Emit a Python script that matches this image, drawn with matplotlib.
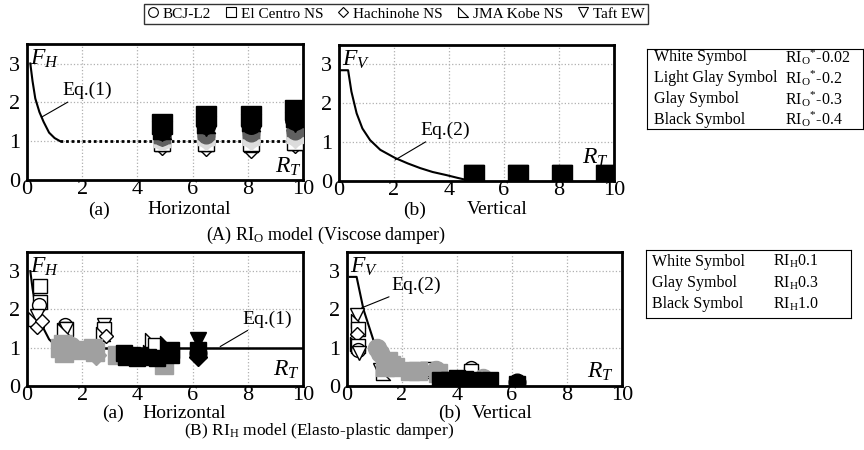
import matplotlib
matplotlib.use('Agg')
import matplotlib.pyplot as plt
from matplotlib.path import Path
from matplotlib.lines import Line2D

plt.rcParams['font.family'] = ['Liberation Serif', 'DejaVu Serif']
plt.rcParams['mathtext.fontset'] = 'custom'
plt.rcParams['mathtext.rm'] = 'Liberation Serif'
plt.rcParams['mathtext.it'] = 'Liberation Serif:italic'

# records and their symbols
records = ['BCJ-L2', 'El Centro NS', 'Hachinohe NS', 'JMA Kobe NS', 'Taft EW']
kobe = Path([(-1, 1), (-1, -1), (1, -1), (-1, 1)], closed=True)
symbols = ['o', 's', 'D', kobe, 'v']
sym_scale = [1.0, 1.0, 0.75, 0.95, 1.0]
draw_order = [0, 2, 3, 4, 1]  # squares drawn last, as in the picture

# Eq.(1) and Eq.(2) curves
eq1_rt = [0.12, 0.2, 0.3, 0.45, 0.6, 0.8, 1.0, 1.2]
eq1_f = [3.0, 2.55, 2.1, 1.75, 1.5, 1.22, 1.08, 1.0]
eq2a_rt = [0.0, 0.33, 0.45, 0.64, 0.85, 1.13, 1.5, 2.04, 2.5, 2.95, 3.4, 3.9, 4.3, 4.6]
eq2a_f = [2.85, 2.85, 2.3, 1.74, 1.35, 1.05, 0.8, 0.59, 0.45, 0.33, 0.23, 0.15, 0.08, 0.03]
eq2b_rt = [0.1, 0.35, 0.6, 0.96, 1.3, 1.8, 2.5, 3.2]
eq2b_f = [2.85, 2.85, 2.0, 1.2, 0.8, 0.5, 0.35, 0.25]

# (A) RIo model, horizontal: one row per record, columns = RT groups
a_rt = [4.9, 6.5, 8.1, 9.7]
ah_white = [[0.92, 0.90, 0.88, 0.95], [0.95, 0.95, 0.95, 0.97], [0.85, 0.82, 0.76, 0.90],
            [0.92, 0.93, 0.90, 0.95], [1.00, 1.00, 1.00, 1.00]]
ah_lgray = [[1.00, 1.05, 1.05, 1.10], [1.05, 1.10, 1.10, 1.15], [1.00, 1.00, 1.00, 1.05],
            [1.05, 1.10, 1.15, 1.20], [1.10, 1.15, 1.20, 1.25]]
ah_gray = [[1.10, 1.15, 1.20, 1.25], [1.15, 1.25, 1.30, 1.35], [1.10, 1.20, 1.25, 1.30],
           [1.15, 1.25, 1.30, 1.40], [1.10, 1.20, 1.25, 1.35]]
ah_black = [[1.30, 1.45, 1.45, 1.55], [1.45, 1.65, 1.65, 1.80], [1.35, 1.50, 1.50, 1.60],
            [1.30, 1.45, 1.50, 1.60], [1.25, 1.40, 1.45, 1.50]]

# (A) RIo model, vertical
av_white = [[0.02, 0.02, 0.02, 0.02]] * 5
av_lgray = [[0.06, 0.06, 0.06, 0.06]] * 5
av_gray = [[0.08, 0.08, 0.08, 0.08]] * 5
av_black = [[0.12, 0.12, 0.12, 0.12], [0.14, 0.14, 0.14, 0.14], [0.12, 0.12, 0.12, 0.12],
            [0.12, 0.12, 0.12, 0.12], [0.14, 0.14, 0.14, 0.14]]

# (B) RIH model, horizontal: (record index, RT, F)
bh_white = [(1, 0.48, 2.6), (1, 0.48, 2.2), (0, 0.42, 2.12), (4, 0.36, 1.82), (3, 0.3, 1.75),
            (2, 0.36, 1.55), (2, 0.55, 1.7), (0, 1.39, 1.6), (1, 1.4, 1.48), (4, 1.4, 1.5),
            (3, 1.35, 1.45), (4, 2.78, 1.6), (1, 2.8, 1.48), (3, 2.75, 1.35), (2, 2.85, 1.3),
            (3, 4.53, 1.2), (1, 4.65, 1.08)]
bh_gray = [(1, 1.2, 1.0), (0, 1.5, 0.95), (1, 1.8, 0.95), (1, 1.35, 0.85), (0, 1.6, 1.05),
           (1, 1.3, 1.1), (1, 2.4, 1.0), (2, 2.5, 0.8), (1, 2.45, 0.9), (1, 3.25, 0.8),
           (1, 4.95, 0.55)]
bh_black = [(1, 3.5, 0.85), (1, 3.8, 0.8), (1, 4.1, 0.78), (1, 4.4, 0.75), (1, 4.7, 0.72),
            (1, 3.6, 0.75), (1, 4.0, 0.72), (3, 4.5, 0.85), (3, 5.1, 1.1), (1, 5.2, 0.8),
            (1, 5.2, 0.95), (4, 6.2, 1.2), (0, 6.2, 0.85), (2, 6.2, 0.75), (1, 6.2, 0.95)]

# (B) RIH model, vertical
bv_white = [(4, 0.35, 1.85), (3, 0.4, 1.7), (1, 0.4, 1.5), (2, 0.35, 1.35), (3, 0.35, 1.1),
            (1, 0.4, 1.05), (0, 0.4, 0.95), (4, 0.45, 0.85), (4, 1.2, 0.42), (3, 1.3, 0.35),
            (3, 2.85, 0.38), (1, 2.9, 0.45), (0, 4.5, 0.46), (1, 4.5, 0.4)]
bv_gray = [(0, 1.1, 1.0), (0, 1.2, 0.85), (1, 1.5, 0.65), (1, 1.6, 0.55), (1, 1.75, 0.5),
           (1, 1.4, 0.5), (1, 2.3, 0.4), (1, 2.6, 0.38), (0, 3.25, 0.42), (1, 3.3, 0.35),
           (0, 4.95, 0.2), (1, 4.9, 0.1)]
bv_black = [(1, 3.4, 0.15), (1, 3.7, 0.15), (1, 4.0, 0.2), (1, 4.3, 0.18), (1, 4.6, 0.15),
            (1, 3.6, 0.05), (1, 4.2, 0.1), (1, 5.2, 0.15), (1, 5.1, 0.1), (1, 6.2, 0.05),
            (0, 6.2, 0.1)]

box_a = [('White Symbol', r'RI$_{\rm O}$$^{*}$-0.02'), ('Light Glay Symbol', r'RI$_{\rm O}$$^{*}$-0.2'),
         ('Glay Symbol', r'RI$_{\rm O}$$^{*}$-0.3'), ('Black Symbol', r'RI$_{\rm O}$$^{*}$-0.4')]
box_b = [('White Symbol', r'RI$_{\rm H}$0.1'), ('Glay Symbol', r'RI$_{\rm H}$0.3'),
         ('Black Symbol', r'RI$_{\rm H}$1.0')]


def setup(ax, fname):
    ax.set_xlim(0, 10)
    ax.set_ylim(0, 3.5)
    ax.set_xticks([0, 2, 4, 6, 8, 10])
    ax.set_yticks([0, 1, 2, 3])
    ax.tick_params(length=0, labelsize=16)
    ax.tick_params(axis='x', pad=0)
    ax.tick_params(axis='y', pad=5)
    ax.grid(True, color='#b0b0b0', linestyle=':', linewidth=0.9)
    for s in ax.spines.values():
        s.set_linewidth(2)
    ax.text(0.1, 3.12, fname, fontsize=17, ha='left', va='center', zorder=10)


def grid_pts(ax, rts, rows, fc, ec, ms):
    for i in draw_order:
        ax.plot(rts, rows[i], linestyle='none', marker=symbols[i], ms=ms * sym_scale[i],
                mfc=fc, mec=ec, mew=1, zorder=4)


def list_pts(ax, pts, fc, ec, ms):
    for rec, rt, f in pts:
        ax.plot(rt, f, linestyle='none', marker=symbols[rec], ms=ms * sym_scale[rec],
                mfc=fc, mec=ec, mew=1, zorder=4)


def eq_label(ax, txt, xy, xytext):
    ax.annotate(txt, xy=xy, xytext=xytext, fontsize=14, va='center',
                arrowprops=dict(arrowstyle='-', color='black', lw=0.8, shrinkA=0, shrinkB=0))


fig = plt.figure(figsize=(8.64, 4.5), dpi=100)

# (A)(a)
ax1 = fig.add_axes([0.03125, 0.6, 0.3194, 0.302])
setup(ax1, r'$F_H$')
ax1.plot(eq1_rt, eq1_f, color='black', lw=1.5, zorder=3)
ax1.plot([1.2, 10], [1, 1], color='black', lw=2, linestyle=(0, (1, 1)), zorder=3)
grid_pts(ax1, a_rt, ah_white, 'white', 'black', 11)
grid_pts(ax1, a_rt, ah_lgray, '#dcdcdc', '#dcdcdc', 12)
grid_pts(ax1, a_rt, ah_gray, '#606060', '#606060', 12)
grid_pts(ax1, a_rt, ah_black, 'black', 'black', 14)
eq_label(ax1, 'Eq.(1)', (0.53, 1.62), (1.3, 2.3))
ax1.text(9.95, 0.35, r'$R_T$', fontsize=17, ha='right', va='center')

# (A)(b)
ax2 = fig.add_axes([0.3924, 0.598, 0.3183, 0.302])
setup(ax2, r'$F_V$')
ax2.plot(eq2a_rt, eq2a_f, color='black', lw=1.5, zorder=3)
grid_pts(ax2, a_rt, av_white, 'white', 'black', 11)
grid_pts(ax2, a_rt, av_lgray, '#c8c8c8', '#c8c8c8', 12)
grid_pts(ax2, a_rt, av_gray, '#606060', '#606060', 12)
grid_pts(ax2, a_rt, av_black, 'black', 'black', 14)
eq_label(ax2, 'Eq.(2)', (2.04, 0.54), (2.95, 1.3))
ax2.text(9.8, 0.6, r'$R_T$', fontsize=17, ha='right', va='center')

# (B)(a)
ax3 = fig.add_axes([0.03125, 0.1422, 0.3194, 0.2978])
setup(ax3, r'$F_H$')
ax3.plot(eq1_rt, eq1_f, color='black', lw=1.5, zorder=3)
ax3.plot([1.2, 10], [1, 1], color='black', lw=1.8, zorder=3)
list_pts(ax3, bh_white, 'white', 'black', 10)
list_pts(ax3, bh_gray, '#a0a0a0', '#a0a0a0', 13)
list_pts(ax3, bh_black, 'black', 'black', 12)
eq_label(ax3, 'Eq.(1)', (7.0, 1.03), (7.8, 1.75))
ax3.text(9.9, 0.42, r'$R_T$', fontsize=17, ha='right', va='center')

# (B)(b)
ax4 = fig.add_axes([0.4016, 0.1422, 0.3183, 0.2978])
setup(ax4, r'$F_V$')
ax4.plot(eq2b_rt, eq2b_f, color='black', lw=1.5, zorder=3)
list_pts(ax4, bv_white, 'white', 'black', 10)
list_pts(ax4, bv_gray, '#a0a0a0', '#a0a0a0', 13)
list_pts(ax4, bv_black, 'black', 'black', 12)
eq_label(ax4, 'Eq.(2)', (0.53, 2.04), (1.63, 2.62))
ax4.text(9.7, 0.38, r'$R_T$', fontsize=17, ha='right', va='center')

# sub captions
ya, yA, yb, yB = 1 - 210 / 450, 1 - 235 / 450, 1 - 413 / 450, 1 - 431 / 450
fig.text(88 / 864, ya, '(a)', fontsize=14, ha='left', va='center')
fig.text(147 / 864, ya, 'Horizontal', fontsize=14, ha='left', va='center')
fig.text(403 / 864, ya, '(b)', fontsize=14, ha='left', va='center')
fig.text(467 / 864, ya, 'Vertical', fontsize=14, ha='left', va='center')
fig.text(0.377, yA, r'(A) RI$_{\rm O}$ model (Viscose damper)', fontsize=13, ha='center', va='center')
fig.text(102 / 864, yb, '(a)', fontsize=14, ha='left', va='center')
fig.text(142 / 864, yb, 'Horizontal', fontsize=14, ha='left', va='center')
fig.text(438 / 864, yb, '(b)', fontsize=14, ha='left', va='center')
fig.text(472 / 864, yb, 'Vertical', fontsize=14, ha='left', va='center')
fig.text(0.369, yB, r'(B) RI$_{\rm H}$ model (Elasto-plastic damper)', fontsize=12.5, ha='center', va='center')

# symbol boxes
bx1 = fig.add_axes([0.749, 0.713, 0.25, 0.178])
bx1.set_xticks([]); bx1.set_yticks([])
bx1.set_xlim(0, 1); bx1.set_ylim(0, 1)
for i, (a, b) in enumerate(box_a):
    y = 0.9 - i * 0.26
    bx1.text(0.03, y, a, fontsize=11.5, va='center', ha='left')
    bx1.text(0.64, y, b, fontsize=11.5, va='center', ha='left')

bx2 = fig.add_axes([0.7477, 0.293, 0.237, 0.151])
bx2.set_xticks([]); bx2.set_yticks([])
bx2.set_xlim(0, 1); bx2.set_ylim(0, 1)
for i, (a, b) in enumerate(box_b):
    y = 0.83 - i * 0.31
    bx2.text(0.03, y, a, fontsize=11.5, va='center', ha='left')
    bx2.text(0.62, y, b, fontsize=11.5, va='center', ha='left')

# top legend
handles = [Line2D([], [], linestyle='none', marker=m, ms=7 * sc, mfc='white', mec='black', mew=0.8)
           for m, sc in zip(symbols, sym_scale)]
leg = fig.legend(handles, records, loc='upper center', bbox_to_anchor=(0.458, 0.995), ncol=5,
                 fontsize=11, frameon=True, fancybox=False, edgecolor='black', handlelength=0.8,
                 handletextpad=0.25, columnspacing=0.9, borderpad=0.2, borderaxespad=0.1)
leg.get_frame().set_linewidth(1)

fig.savefig('out.png', dpi=100)
